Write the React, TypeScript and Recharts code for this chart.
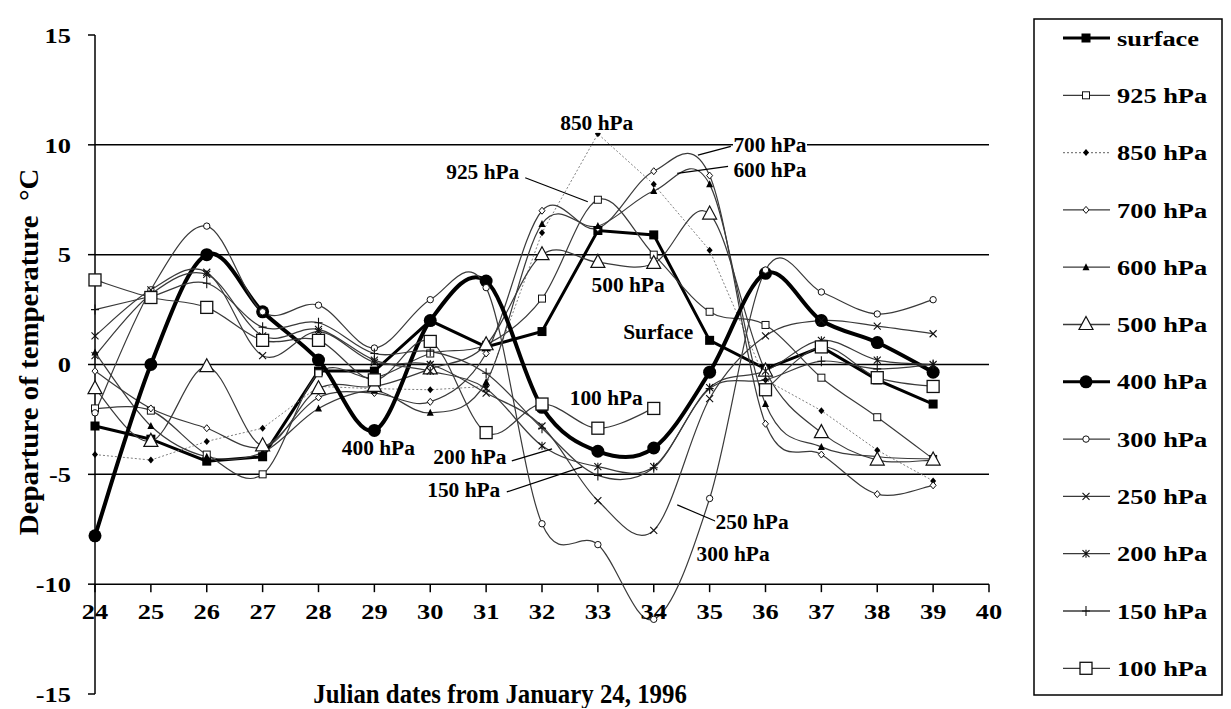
import React from 'react';
import { LineChart, Line, XAxis, YAxis, ReferenceLine, ReferenceDot } from 'recharts';

const days = [24, 25, 26, 27, 28, 29, 30, 31, 32, 33, 34, 35, 36, 37, 38, 39];
const xTicks = [24, 25, 26, 27, 28, 29, 30, 31, 32, 33, 34, 35, 36, 37, 38, 39, 40];
const yTicks = [-15, -10, -5, 0, 5, 10, 15];
const gridValues = [10, 5, 0, -5];

const surface = [-2.8, -3.4, -4.4, -4.2, -0.3, -0.3, 2.0, 0.8, 1.5, 6.1, 5.9, 1.1, -0.2, 0.8, -0.7, -1.8];
const h925 = [-2.0, -2.1, -4.1, -5.0, -0.4, -0.6, 0.5, 0.9, 3.0, 7.5, 5.0, 2.4, 1.8, -0.6, -2.4, -4.3];
const h850 = [-4.1, -4.35, -3.5, -2.9, -1.0, -1.1, -1.15, -1.0, 6.0, 10.5, 8.2, 5.2, -0.7, -2.1, -3.9, -5.3];
const h700 = [-0.3, -2.0, -2.9, -3.75, -1.5, -1.3, -1.7, 0.5, 7.0, 6.2, 8.8, 8.6, -2.7, -4.1, -5.9, -5.5];
const h600 = [0.55, -2.8, -4.2, -4.0, -2.0, -1.2, -2.2, -0.8, 6.4, 6.3, 7.9, 8.2, -1.8, -3.75, -4.2, -4.3];
const h500 = [-1.1, -3.5, -0.1, -3.7, -1.1, -1.0, -0.2, 0.9, 5.0, 4.65, 4.6, 6.85, -0.3, -3.1, -4.35, -4.35];
const h400 = [-7.8, 0.0, 5.0, 2.4, 0.2, -3.0, 2.0, 3.8, -1.95, -3.95, -3.8, -0.35, 4.15, 2.0, 1.0, -0.35];
const h300 = [-2.2, 3.4, 6.3, 2.4, 2.7, 0.75, 2.95, 3.5, -7.25, -8.2, -11.6, -6.1, 4.3, 3.3, 2.3, 2.95];
const h250 = [1.3, 3.4, 4.2, 0.4, 1.5, 0.1, 0.0, -1.3, -2.8, -6.2, -7.55, -1.55, 1.3, 2.0, 1.75, 1.4];
const h200 = [0.4, 3.2, 4.1, 1.3, 1.6, 0.2, -0.3, -1.1, -3.7, -4.65, -4.65, -1.05, -0.3, 1.1, 0.2, 0.0];
const h150 = [2.5, 3.1, 3.7, 1.7, 1.9, 0.5, 0.6, -0.4, -2.9, -5.05, -4.7, -1.1, -0.7, 0.15, -0.2, 0.0];
const h100 = [3.85, 3.05, 2.6, 1.1, 1.1, -0.7, 1.05, -3.1, -1.8, -2.9, -2.0, null, -1.15, 0.8, -0.6, -1.0];

// label text, anchor point (day, value), leader line [from, to] if any
const notes = [
  { text: '850 hPa', x: 32.98, y: 11.0 },
  { text: '925 hPa', x: 30.94, y: 8.73, lead: [[31.7, 8.5], [32.82, 7.41]] },
  { text: '700 hPa', x: 36.08, y: 9.98, lead: [[34.79, 9.53], [35.38, 9.93]] },
  { text: '600 hPa', x: 36.08, y: 8.84, lead: [[34.42, 8.7], [35.33, 9.02]] },
  { text: '500 hPa', x: 33.54, y: 3.61 },
  { text: 'Surface', x: 34.08, y: 1.48 },
  { text: '100 hPa', x: 33.15, y: -1.52 },
  { text: '400 hPa', x: 29.07, y: -3.8 },
  { text: '200 hPa', x: 30.71, y: -4.21, lead: [[31.46, -4.39], [32.18, -3.84]] },
  { text: '150 hPa', x: 30.6, y: -5.71, lead: [[31.37, -5.8], [32.72, -4.66]] },
  { text: '250 hPa', x: 35.76, y: -7.2, lead: [[34.42, -6.39], [35.13, -7.16]] },
  { text: '300 hPa', x: 35.42, y: -8.66 },
];

const FONT = '"Liberation Serif", "Times New Roman", serif';

// Excel-like smoothing (Catmull-Rom to bezier)
const excelSmooth = (context: any) => {
  let pts: number[][] = [];
  return {
    areaStart() {},
    areaEnd() {},
    lineStart() {
      pts = [];
    },
    point(x: number, y: number) {
      pts.push([+x, +y]);
    },
    lineEnd() {
      const n = pts.length;
      if (!n) return;
      context.moveTo(pts[0][0], pts[0][1]);
      for (let i = 0; i < n - 1; i++) {
        const p0 = pts[i - 1] || pts[i];
        const p1 = pts[i];
        const p2 = pts[i + 1];
        const p3 = pts[i + 2] || p2;
        context.bezierCurveTo(
          p1[0] + (p2[0] - p0[0]) / 6,
          p1[1] + (p2[1] - p0[1]) / 6,
          p2[0] - (p3[0] - p1[0]) / 6,
          p2[1] - (p3[1] - p1[1]) / 6,
          p2[0],
          p2[1]
        );
      }
    },
  };
};

function Marker({ kind, cx, cy }: { kind: string; cx: number; cy: number }) {
  const k = '#111';
  switch (kind) {
    case 'fsquare':
      return <rect x={cx - 4.5} y={cy - 4.5} width={9} height={9} fill="#000" />;
    case 'osquare':
      return <rect x={cx - 3.5} y={cy - 3.5} width={7} height={7} fill="#fff" stroke={k} strokeWidth={1} />;
    case 'bigsquare':
      return <rect x={cx - 6} y={cy - 6} width={12} height={12} fill="#fff" stroke={k} strokeWidth={1.3} />;
    case 'fdiamond':
      return <path d={`M${cx},${cy - 3.5}L${cx + 3},${cy}L${cx},${cy + 3.5}L${cx - 3},${cy}Z`} fill="#000" />;
    case 'odiamond':
      return <path d={`M${cx},${cy - 3.5}L${cx + 3},${cy}L${cx},${cy + 3.5}L${cx - 3},${cy}Z`} fill="#fff" stroke={k} strokeWidth={1} />;
    case 'ftriangle':
      return <path d={`M${cx},${cy - 4}L${cx + 3.5},${cy + 3}L${cx - 3.5},${cy + 3}Z`} fill="#000" />;
    case 'otriangle':
      return <path d={`M${cx},${cy - 8}L${cx + 7},${cy + 5}L${cx - 7},${cy + 5}Z`} fill="#fff" stroke={k} strokeWidth={1.2} />;
    case 'fcircle':
      return <circle cx={cx} cy={cy} r={6.5} fill="#000" />;
    case 'ocircle':
      return <circle cx={cx} cy={cy} r={3.2} fill="#fff" stroke={k} strokeWidth={1} />;
    case 'cross':
      return <path d={`M${cx - 3.5},${cy - 3.5}L${cx + 3.5},${cy + 3.5}M${cx - 3.5},${cy + 3.5}L${cx + 3.5},${cy - 3.5}`} stroke={k} strokeWidth={1.1} />;
    case 'star':
      return (
        <path
          d={`M${cx - 3.5},${cy - 3.5}L${cx + 3.5},${cy + 3.5}M${cx - 3.5},${cy + 3.5}L${cx + 3.5},${cy - 3.5}M${cx},${cy - 4}L${cx},${cy + 4}`}
          stroke={k}
          strokeWidth={1.1}
        />
      );
    case 'plus':
      return <path d={`M${cx},${cy - 5}L${cx},${cy + 5}M${cx - 4},${cy}L${cx + 4},${cy}`} stroke={k} strokeWidth={1.1} />;
    default:
      return null;
  }
}

const series = [
  { key: 'surface', name: 'surface', values: surface, stroke: '#000', width: 3, curve: 'linear', marker: 'fsquare' },
  { key: 'h925', name: '925 hPa', values: h925, stroke: '#3a3a3a', width: 1.2, curve: 'smooth', marker: 'osquare' },
  { key: 'h850', name: '850 hPa', values: h850, stroke: '#808080', width: 1, curve: 'linear', marker: 'fdiamond', dash: '2 2' },
  { key: 'h700', name: '700 hPa', values: h700, stroke: '#3a3a3a', width: 1.2, curve: 'smooth', marker: 'odiamond' },
  { key: 'h600', name: '600 hPa', values: h600, stroke: '#3a3a3a', width: 1.2, curve: 'smooth', marker: 'ftriangle' },
  { key: 'h500', name: '500 hPa', values: h500, stroke: '#3a3a3a', width: 1.2, curve: 'smooth', marker: 'otriangle' },
  { key: 'h400', name: '400 hPa', values: h400, stroke: '#000', width: 4, curve: 'smooth', marker: 'fcircle' },
  { key: 'h300', name: '300 hPa', values: h300, stroke: '#3a3a3a', width: 1.2, curve: 'smooth', marker: 'ocircle' },
  { key: 'h250', name: '250 hPa', values: h250, stroke: '#3a3a3a', width: 1.2, curve: 'smooth', marker: 'cross' },
  { key: 'h200', name: '200 hPa', values: h200, stroke: '#3a3a3a', width: 1.2, curve: 'smooth', marker: 'star' },
  { key: 'h150', name: '150 hPa', values: h150, stroke: '#3a3a3a', width: 1.2, curve: 'smooth', marker: 'plus' },
  { key: 'h100', name: '100 hPa', values: h100, stroke: '#3a3a3a', width: 1.2, curve: 'smooth', marker: 'bigsquare' },
];

const data = days.map((day, i) => {
  const row: any = { day };
  series.forEach((s) => {
    row[s.key] = s.values[i];
  });
  return row;
});

function SText({ x, y, size, children, anchor = 'middle', stretch = 1.2 }: any) {
  return (
    <text
      transform={`translate(${x},${y}) scale(${stretch},1)`}
      textAnchor={anchor}
      dominantBaseline="central"
      fontFamily={FONT}
      fontWeight="bold"
      fontSize={size}
      fill="#000"
      style={{ whiteSpace: 'pre' }}
    >
      {children}
    </text>
  );
}

function LegendBox() {
  return (
    <svg width={190} height={678} style={{ display: 'block' }}>
      <rect x={1} y={1} width={188} height={676} fill="#fff" stroke="#000" strokeWidth={1.5} />
      {series.map((s, i) => {
        const y = 20 + i * 57.3;
        return (
          <g key={s.key}>
            <line
              x1={30}
              x2={77}
              y1={y}
              y2={y}
              stroke={s.stroke}
              strokeWidth={s.width > 2 ? 3 : 1.3}
              strokeDasharray={s.dash}
            />
            <Marker kind={s.marker} cx={53} cy={y} />
            <SText x={84} y={y} size={22} anchor="start">
              {s.name}
            </SText>
          </g>
        );
      })}
    </svg>
  );
}

const YTick = ({ x, y, payload }: any) => (
  <SText x={x - 15} y={y} size={22} anchor="end">
    {payload.value}
  </SText>
);

export default function App() {
  return (
    <div style={{ position: 'relative', width: 1223, height: 700, background: '#fff' }}>
      <LineChart width={1223} height={700} data={data} margin={{ top: 27, right: 242, bottom: 14, left: 27 }}>
        <XAxis type="number" dataKey="day" domain={[24, 40]} ticks={xTicks} hide />
        <YAxis
          type="number"
          domain={[-15, 15]}
          ticks={yTicks}
          width={60}
          axisLine={{ stroke: '#000', strokeWidth: 1.5 }}
          tickLine={{ stroke: '#000', strokeWidth: 1.5 }}
          tickSize={7}
          tick={<YTick />}
          interval={0}
          label={{
            content: ({ viewBox }: any) => (
              <g transform={`translate(${viewBox.x - 6},${viewBox.y + 317}) rotate(-90)`}>
                <SText x={0} y={0} size={27} stretch={1.07}>
                  {'Departure of temperature  °C'}
                </SText>
              </g>
            ),
          }}
        />
        {gridValues.map((v) => (
          <ReferenceLine key={v} y={v} stroke="#000" strokeWidth={1.5} />
        ))}
        <ReferenceLine y={-10} stroke="#000" strokeWidth={1.5} />
        {xTicks.map((d) => (
          <ReferenceDot
            key={`t${d}`}
            x={d}
            y={-10}
            r={0}
            shape={(p: any) => (
              <g>
                <line x1={p.cx} x2={p.cx} y1={p.cy} y2={p.cy + 8} stroke="#000" strokeWidth={1.5} />
                <SText x={p.cx} y={p.cy + 27} size={22}>
                  {d}
                </SText>
              </g>
            )}
          />
        ))}
        <ReferenceDot
          x={31.25}
          y={-15}
          r={0}
          shape={(p: any) => (
            <SText x={p.cx} y={p.cy} size={27} stretch={0.92}>
              Julian dates from January 24, 1996
            </SText>
          )}
        />
        {series.map((s) => (
          <Line
            key={s.key}
            dataKey={s.key}
            name={s.name}
            type={s.curve === 'smooth' ? (excelSmooth as any) : 'linear'}
            stroke={s.stroke}
            strokeWidth={s.width}
            strokeDasharray={s.dash}
            isAnimationActive={false}
            connectNulls={false}
            dot={(p: any) =>
              p.cy == null || p.value == null ? <g key={p.key} /> : (
                <g key={p.key}>
                  <Marker kind={s.marker} cx={p.cx} cy={p.cy} />
                </g>
              )
            }
            activeDot={false}
          />
        ))}
        {notes.map((n) =>
          n.lead ? (
            <ReferenceLine
              key={`l${n.text}`}
              segment={[
                { x: n.lead[0][0], y: n.lead[0][1] },
                { x: n.lead[1][0], y: n.lead[1][1] },
              ]}
              stroke="#000"
              strokeWidth={1.2}
            />
          ) : null
        )}
        {notes.map((n) => (
          <ReferenceDot
            key={`n${n.text}`}
            x={n.x}
            y={n.y}
            r={0}
            shape={(p: any) => (
              <g>
                <rect x={p.cx - 37} y={p.cy - 10} width={74} height={20} fill="#fff" />
                <SText x={p.cx} y={p.cy} size={20} stretch={1.07}>
                  {n.text}
                </SText>
              </g>
            )}
          />
        ))}
      </LineChart>
      <div style={{ position: 'absolute', left: 1025, top: 10 }}>
        <LegendBox />
      </div>
    </div>
  );
}
